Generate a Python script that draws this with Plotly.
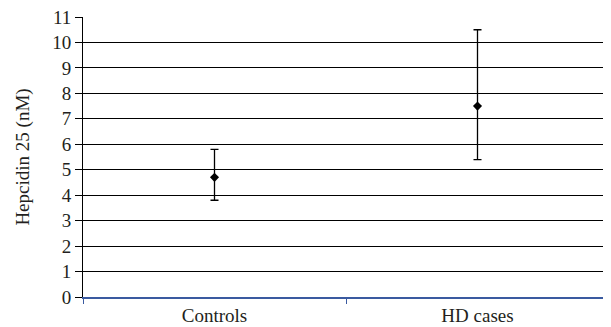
import plotly.graph_objects as go

categories = ["Controls", "HD cases"]
means = [4.7, 7.5]
upper = [5.8, 10.5]
lower = [3.8, 5.4]
y_ticks = list(range(0, 12))

err_plus = [u - m for u, m in zip(upper, means)]
err_minus = [m - l for m, l in zip(means, lower)]

fig = go.Figure()
fig.add_trace(go.Scatter(
    x=categories, y=means, mode="markers",
    marker=dict(symbol="diamond", size=7, color="black"),
    error_y=dict(type="data", symmetric=False, array=err_plus, arrayminus=err_minus,
                 color="black", thickness=1.3, width=4),
    showlegend=False,
))

font = "Liberation Serif, Times New Roman, serif"
# page body has an 8px default margin; figure sized to fit the 611x327 window
fig.update_layout(
    width=603, height=319,
    margin=dict(l=75, r=2, t=9, b=30, autoexpand=False),
    paper_bgcolor="white", plot_bgcolor="white",
    font=dict(family=font, size=19, color="#231f20"),
)
fig.update_xaxes(
    type="category", tickson="boundaries", range=[-0.5, 1.5],
    showline=True, linecolor="#3a5aa0", linewidth=2,
    ticks="outside", ticklen=5, tickcolor="#3a5aa0",
    showgrid=False, tickfont=dict(size=19),
)
fig.update_yaxes(
    range=[0, 11], tickvals=y_ticks,
    showline=True, linecolor="black", linewidth=1, mirror=True,
    ticks="outside", ticklen=7, tickcolor="black",
    showgrid=True, gridcolor="black", gridwidth=1.2,
    zeroline=False, tickfont=dict(size=19), ticklabeloverflow="allow",
    title=dict(text="Hepcidin 25 (nM)", font=dict(size=19), standoff=17),
)
fig.write_html("out.html")
